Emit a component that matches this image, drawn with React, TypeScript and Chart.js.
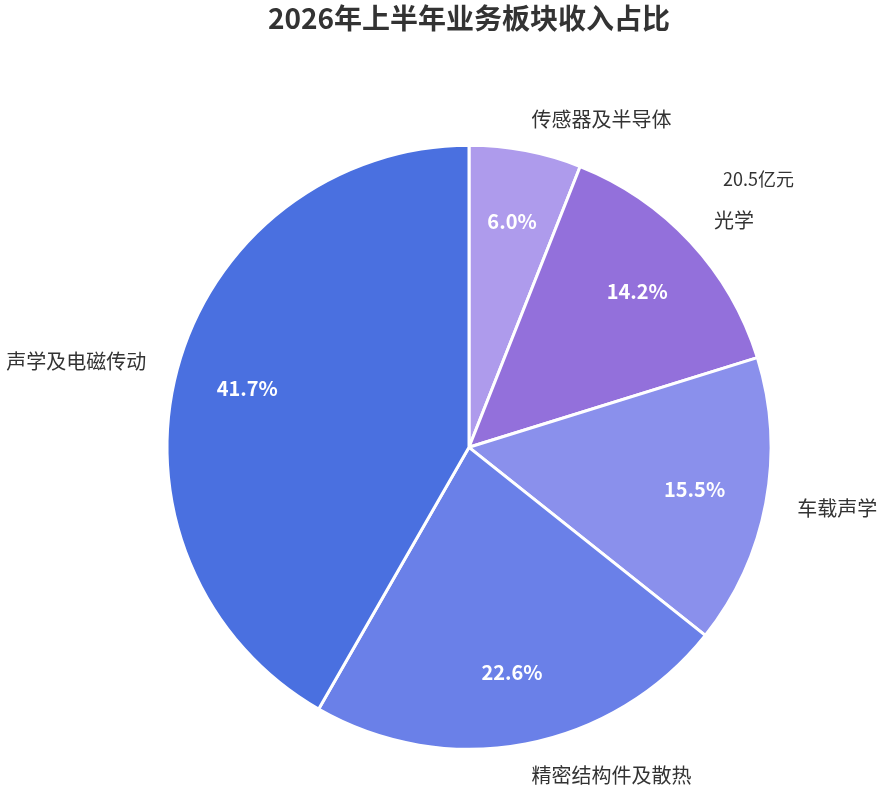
import React, { useEffect, useRef } from "react";
import { Chart, registerables } from "chart.js";

Chart.register(...registerables);

const titleText = "2026年上半年业务板块收入占比";
const categories = ["传感器及半导体", "光学", "车载声学", "精密结构件及散热", "声学及电磁传动"];
const shares = [6.0, 14.2, 15.5, 22.6, 41.7];
const sliceColors = ["#ae9bec", "#9370db", "#8a90ec", "#6a80e8", "#4a70e0"];
const noteTexts = ["", "20.5亿元", "", "", ""];

const FONT = "'Noto Sans CJK SC', 'Noto Sans', sans-serif";

const labelPlugin = {
  id: "sliceLabels",
  afterDatasetsDraw(chart: any) {
    const ctx = chart.ctx;
    const meta = chart.getDatasetMeta(0);
    ctx.save();
    meta.data.forEach((arc: any, i: number) => {
      const p = arc.getProps(["x", "y", "startAngle", "endAngle", "outerRadius"], true);
      const mid = (p.startAngle + p.endAngle) / 2;
      const c = Math.cos(mid);
      const s = Math.sin(mid);
      const ri = p.outerRadius * 0.76;
      ctx.fillStyle = "#ffffff";
      ctx.font = `bold 20px ${FONT}`;
      ctx.textAlign = "center";
      ctx.textBaseline = "middle";
      ctx.fillText(shares[i].toFixed(1) + "%", p.x + ri * c, p.y + ri * s);
      const ro = p.outerRadius + 32;
      const lx = p.x + ro * c;
      const ly = p.y + ro * s;
      ctx.fillStyle = "#333333";
      ctx.font = `20px ${FONT}`;
      ctx.textAlign = c >= -0.01 ? "left" : "right";
      ctx.fillText(categories[i], lx, ly);
      if (noteTexts[i]) {
        ctx.textAlign = "left";
        ctx.font = `18px ${FONT}`;
        ctx.fillText(noteTexts[i], lx + 9, ly - 41);
      }
    });
    ctx.restore();
  },
};

export default function App() {
  const ref = useRef<HTMLCanvasElement | null>(null);
  useEffect(() => {
    if (!ref.current) return;
    const chart = new Chart(ref.current, {
      type: "pie",
      data: {
        labels: categories,
        datasets: [
          {
            data: shares,
            backgroundColor: sliceColors,
            borderColor: "#ffffff",
            borderWidth: 3,
            hoverOffset: 0,
            radius: 302,
          } as any,
        ],
      },
      options: {
        animation: false,
        responsive: false,
        maintainAspectRatio: false,
        layout: { padding: { top: 0, bottom: 11, left: 60, right: 7 } },
        plugins: {
          legend: { display: false },
          tooltip: { enabled: false },
          title: {
            display: true,
            text: titleText,
            color: "#333333",
            font: { family: FONT, size: 28, weight: "bold" },
            padding: { top: 2, bottom: 80 },
          },
        },
      },
      plugins: [labelPlugin],
    });
    return () => chart.destroy();
  }, []);
  return (
    <div style={{ position: "fixed", left: 0, top: 0, width: 885, height: 790, background: "#fff" }}>
      <canvas ref={ref} width={885} height={790} style={{ width: 885, height: 790 }} />
    </div>
  );
}
